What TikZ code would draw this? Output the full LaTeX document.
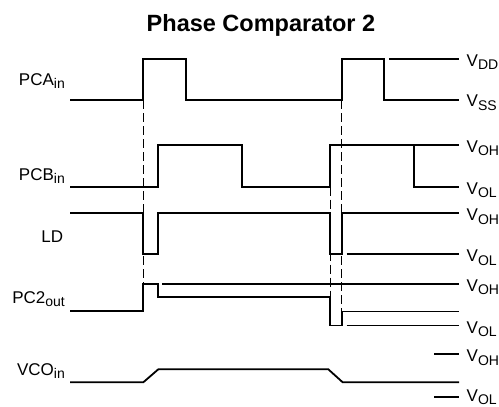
\documentclass[tikz,border=0pt]{standalone}
\usepackage{fontspec}
\setmainfont{Liberation Sans}
\usepackage{tikz}
\tikzset{wave line/.style={line width=1.8pt, line join=miter, line cap=butt}}
\tikzset{guide line/.style={line width=0.9pt, dash pattern=on 9pt off 4pt}}
\tikzset{signal name/.style={anchor=base east, inner sep=0pt, font=\fontsize{17}{17}\selectfont}}
\tikzset{level name/.style={anchor=base west, inner sep=0pt, font=\fontsize{17}{17}\selectfont}}
\newcommand{\lowsub}[1]{\raisebox{-3.5pt}{\fontsize{14}{14}\selectfont #1}}

\begin{document}
\begin{tikzpicture}[x=1pt, y=-1pt]
\useasboundingbox (0,0) rectangle (499,407);

\node[inner sep=0pt, anchor=base, font=\bfseries\fontsize{23.5}{23.5}\selectfont] (title) at (261,31.7) {Phase Comparator 2};

% dashed edge markers
\draw[guide line] (143.3,100) -- (143.3,311);
\draw[guide line] (330,186.7) -- (330,325.5);
\draw[guide line] (341.7,100) -- (341.7,325.5);

% PCA in
\draw[wave line] (70,100) -- (143.3,100) -- (143.3,59.3) -- (186,59.3) -- (186,100) -- (341.7,100) -- (341.7,59.3) -- (384.3,59.3) -- (384.3,100) -- (459,100);
\draw[wave line] (389.3,59.3) -- (459,59.3);

% PCB in
\draw[wave line] (70,186.7) -- (157.7,186.7) -- (157.7,144.7) -- (242,144.7) -- (242,186.7) -- (330,186.7) -- (330,144.7) -- (459,144.7);
\draw[wave line] (414,144.7) -- (414,186.7) -- (459,186.7);

% LD
\draw[wave line] (70,213.3) -- (143.3,213.3) -- (143.3,254.3) -- (157.7,254.3) -- (157.7,213.3) -- (330,213.3) -- (330,254.3) -- (341.7,254.3) -- (341.7,213.3) -- (459,213.3);
\draw[wave line] (346.7,254.3) -- (459,254.3);

% PC2 out
\draw[wave line] (70,311) -- (143.3,311) -- (143.3,284) -- (157.7,284) -- (157.7,297) -- (330,297) -- (330,325.5) -- (341.7,325.5) -- (341.7,311.5) -- (459,311.5);
\draw[wave line] (162,284) -- (459,284);
\draw[wave line] (346.7,325.5) -- (459,325.5);

% VCO in
\draw[wave line] (70,382.3) -- (143.3,382.3) -- (158.3,369.3) -- (328.3,369.3) -- (342.7,382.3) -- (459,382.3);
\draw[wave line] (434,354.3) -- (459,354.3);
\draw[wave line] (434,396.7) -- (459,396.7);

\node[signal name] (pca) at (65,85) {PCA\lowsub{in}};
\node[signal name] (pcb) at (65,180) {PCB\lowsub{in}};
\node[signal name] (ld) at (63.3,242.7) {LD};
\node[signal name] (pctwo) at (65,303.3) {PC2\lowsub{out}};
\node[signal name] (vco) at (65,375) {VCO\lowsub{in}};

\node[level name] (vdd) at (466.5,66) {V\lowsub{DD}};
\node[level name] (vss) at (466.5,106.7) {V\lowsub{SS}};
\node[level name] (pcbhi) at (466.5,152) {V\lowsub{OH}};
\node[level name] (pcblo) at (466.5,194) {V\lowsub{OL}};
\node[level name] (ldhi) at (466.5,220.7) {V\lowsub{OH}};
\node[level name] (ldlo) at (466.5,261.7) {V\lowsub{OL}};
\node[level name] (pchi) at (466.5,291.4) {V\lowsub{OH}};
\node[level name] (pclo) at (466.5,333) {V\lowsub{OL}};
\node[level name] (vcohi) at (466.5,361.7) {V\lowsub{OH}};
\node[level name] (vcolo) at (466.5,401) {V\lowsub{OL}};

\end{tikzpicture}
\end{document}
